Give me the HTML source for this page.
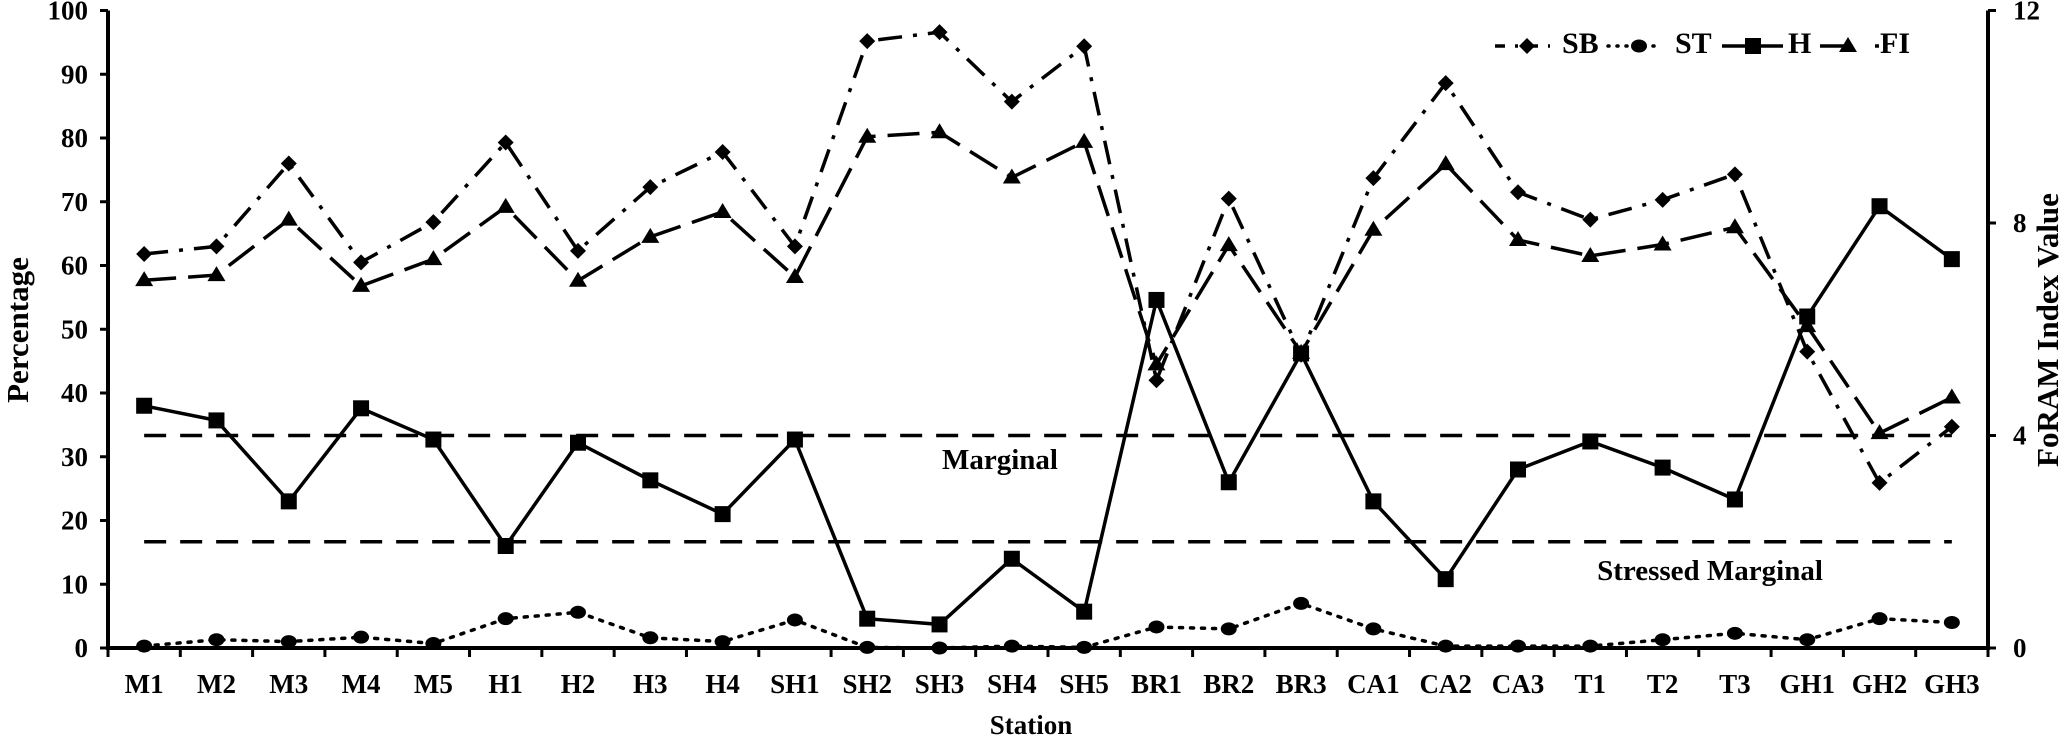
<!DOCTYPE html>
<html><head><meta charset="utf-8"><style>
html,body{margin:0;padding:0;background:#fff}
svg{display:block;font-family:"Liberation Serif",serif;font-weight:bold}
</style></head><body>
<svg id="c" width="2067" height="737" viewBox="0 0 2067 737" xmlns="http://www.w3.org/2000/svg"></svg>
<script>
const L=108,R=1988,T=10.5,B=648;
const labels="M1 M2 M3 M4 M5 H1 H2 H3 H4 SH1 SH2 SH3 SH4 SH5 BR1 BR2 BR3 CA1 CA2 CA3 T1 T2 T3 GH1 GH2 GH3".split(" ");
const n=labels.length,w=(R-L)/n;
const X=i=>L+w*(i+0.5), Y=v=>B-(B-T)*v/100;
const SB=[61.8,63,76,60.5,66.8,79.3,62.3,72.3,77.8,63,95.2,96.6,85.7,94.4,42,70.5,46,73.7,88.6,71.5,67.2,70.3,74.3,46.5,25.9,34.7];
const FI=[57.7,58.5,67.2,56.8,61,69.2,57.6,64.5,68.4,58.2,80.2,80.9,73.8,79.4,44.5,63.2,46.3,65.6,75.9,64,61.5,63.3,66,50.5,33.7,39.3];
const H=[38,35.7,23,37.6,32.7,16,32.2,26.3,21,32.7,4.6,3.7,14,5.7,54.6,26,46.2,23,10.8,28,32.4,28.3,23.3,52,69.3,61];
const ST=[0.3,1.3,1,1.7,0.7,4.6,5.6,1.6,1,4.4,0.1,0,0.3,0.1,3.3,3,7,3,0.3,0.3,0.3,1.3,2.3,1.3,4.6,4.0];
let s="";
const pts=a=>a.map((v,i)=>X(i).toFixed(1)+","+Y(v).toFixed(1)).join(" ");
[33.33,16.67].forEach(v=>{s+=`<line x1="${X(0)}" x2="${X(n-1)}" y1="${Y(v)}" y2="${Y(v)}" stroke="#000" stroke-width="3.5" stroke-dasharray="22,14"/>`;});
s+=`<polyline points="${pts(SB)}" fill="none" stroke="#000" stroke-width="3.5" stroke-dasharray="24,11,4,11"/>`;
s+=`<polyline points="${pts(FI)}" fill="none" stroke="#000" stroke-width="3.5" stroke-dasharray="32,12"/>`;
s+=`<polyline points="${pts(H)}" fill="none" stroke="#000" stroke-width="3.5"/>`;
s+=`<polyline points="${pts(ST)}" fill="none" stroke="#000" stroke-width="3.5" stroke-dasharray="3,8" stroke-linecap="round"/>`;
const dia=(x,y)=>`<polygon points="${x},${y-8} ${x+8},${y} ${x},${y+8} ${x-8},${y}" fill="#000"/>`;
const tri=(x,y)=>`<polygon points="${x},${y-9} ${x+9},${y+6} ${x-9},${y+6}" fill="#000"/>`;
const sq=(x,y)=>`<rect x="${x-8}" y="${y-8}" width="16" height="16" fill="#000"/>`;
const dot=(x,y)=>`<ellipse cx="${x}" cy="${y}" rx="8" ry="6.5" fill="#000"/>`;
for(let i=0;i<n;i++){const x=X(i);s+=dia(x,Y(SB[i]))+tri(x,Y(FI[i]))+sq(x,Y(H[i]))+dot(x,Y(ST[i]));}
s+=`<line x1="${L}" x2="${L}" y1="${T}" y2="${B+2}" stroke="#000" stroke-width="4"/>`;
s+=`<line x1="${R}" x2="${R}" y1="${T}" y2="${B+2}" stroke="#000" stroke-width="4"/>`;
s+=`<line x1="${L}" x2="${R}" y1="${B}" y2="${B}" stroke="#000" stroke-width="4"/>`;
for(let v=0;v<=100;v+=10){const y=Y(v);s+=`<line x1="${L-8}" x2="${L}" y1="${y}" y2="${y}" stroke="#000" stroke-width="3"/><text x="${L-20}" y="${y+9}" text-anchor="end" font-size="27">${v}</text>`;}
for(let v=0;v<=12;v+=4){const y=Y(v/12*100);s+=`<line x1="${R}" x2="${R+8}" y1="${y}" y2="${y}" stroke="#000" stroke-width="3"/><text x="${R+25}" y="${y+9}" font-size="27">${v}</text>`;}
for(let i=0;i<=n;i++){const x=L+w*i;s+=`<line x1="${x}" x2="${x}" y1="${B}" y2="${B+9}" stroke="#000" stroke-width="3"/>`;}
labels.forEach((t,i)=>{s+=`<text x="${X(i)}" y="${B+45}" text-anchor="middle" font-size="27">${t}</text>`;});
s+=`<text x="1031" y="734" text-anchor="middle" font-size="27">Station</text>`;
s+=`<text transform="translate(28,330) rotate(-90)" text-anchor="middle" font-size="31">Percentage</text>`;
s+=`<text transform="translate(2058,330) rotate(-90)" text-anchor="middle" font-size="31">FoRAM Index Value</text>`;
s+=`<text x="1000" y="469" text-anchor="middle" font-size="29">Marginal</text>`;
s+=`<text x="1710" y="580" text-anchor="middle" font-size="29">Stressed Marginal</text>`;
const ly=46,ty=53;
s+=`<line x1="1495" x2="1550" y1="${ly}" y2="${ly}" stroke="#000" stroke-width="3.5" stroke-dasharray="10,10,3,10"/>`+dia(1527,ly)+`<text x="1562" y="${ty}" font-size="30">SB</text>`;
s+=`<line x1="1608" x2="1660" y1="${ly}" y2="${ly}" stroke="#000" stroke-width="3.5" stroke-dasharray="1,8" stroke-linecap="round"/>`+dot(1639,ly)+`<text x="1675" y="${ty}" font-size="30">ST</text>`;
s+=`<line x1="1722" x2="1783" y1="${ly}" y2="${ly}" stroke="#000" stroke-width="3.5"/>`+sq(1753,ly)+`<text x="1788" y="${ty}" font-size="30">H</text>`;
s+=`<line x1="1820" x2="1845" y1="${ly}" y2="${ly}" stroke="#000" stroke-width="3.5"/>`+tri(1848,ly)+`<line x1="1875" x2="1879" y1="${ly}" y2="${ly}" stroke="#000" stroke-width="3.5"/><text x="1880" y="${ty}" font-size="30">FI</text>`;
document.getElementById("c").innerHTML=s;
</script>
</body></html>
